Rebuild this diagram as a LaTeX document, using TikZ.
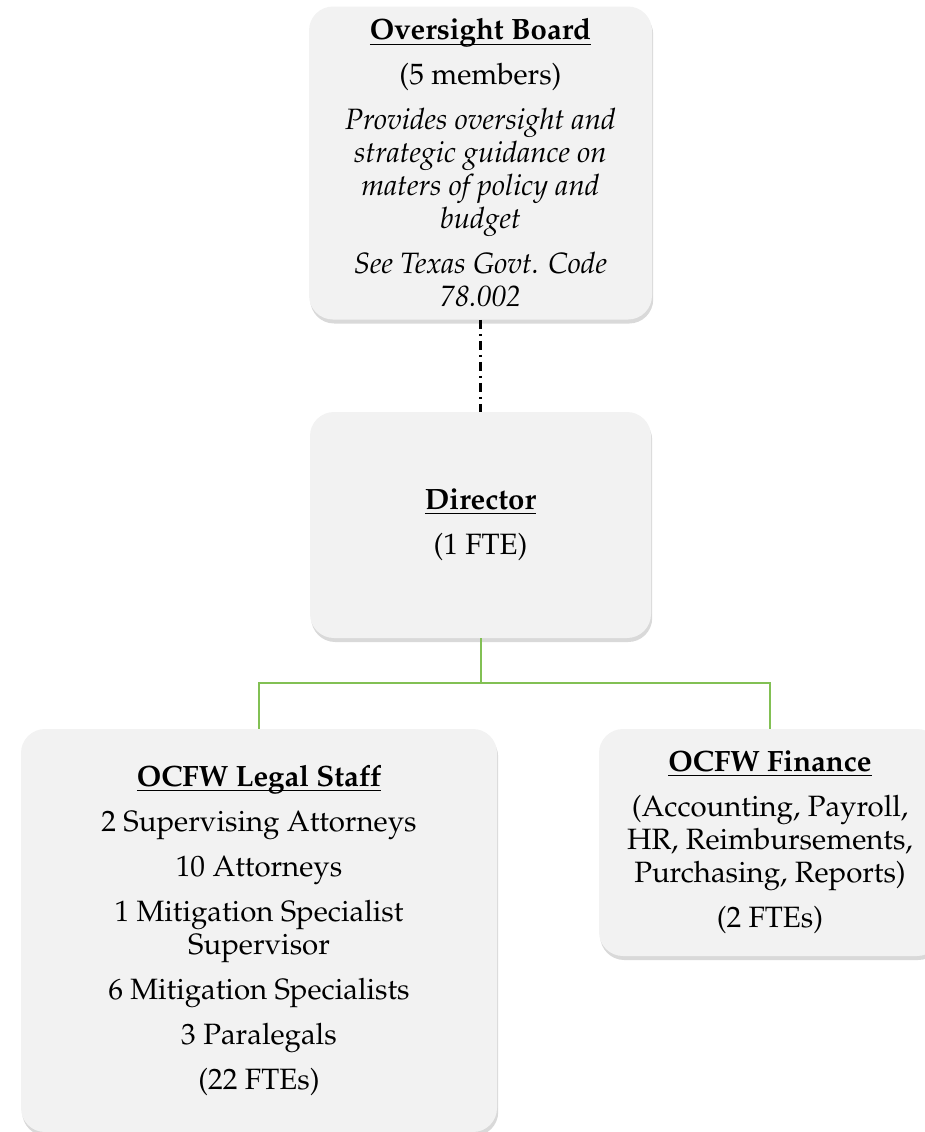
\documentclass[tikz,border=0pt]{standalone}
\usepackage[T1]{fontenc}
\usepackage{mathpazo}
\usetikzlibrary{shadows}
\definecolor{boxgray}{RGB}{242,242,242}
\definecolor{linegreen}{RGB}{130,192,84}
\newcommand{\ultitle}[1]{\textbf{\underline{\smash{#1}}\vphantom{#1}}}
\begin{document}
\begin{tikzpicture}[x=0.5pt,y=-0.5pt,
  orgbox/.style={fill=boxgray, rounded corners=12pt, align=center,
    font=\fontsize{14.7}{16.5}\selectfont, inner sep=0pt,
    drop shadow={opacity=0.3, shadow xshift=0.6pt, shadow yshift=-2pt}},
  orgline/.style={draw=linegreen, line width=1pt},
  boardline/.style={line width=1.1pt, dash pattern=on 4.5pt off 2.5pt on 1pt off 2.5pt}]
\useasboundingbox (0,0) rectangle (925,1132);
% boxes
\node[orgbox, minimum width=171.5pt, minimum height=156.5pt] (board) at (480.5,163)
  {\ultitle{Oversight Board}\\[6pt]
   (5 members)\\[6pt]
   \textit{Provides oversight and}\\ \textit{strategic guidance on}\\
   \textit{maters of policy and}\\ \textit{budget}\\[6pt]
   \textit{See Texas Govt. Code}\\ \textit{78.002}};
\node[orgbox, minimum width=170.5pt, minimum height=113pt] (director) at (480.5,525)
  {\ultitle{Director}\\[6pt]
   (1 FTE)};
\node[orgbox, minimum width=238pt, minimum height=201.5pt] (legal) at (259,930.5)
  {\ultitle{OCFW Legal Staff}\\[6pt]
   2 Supervising Attorneys\\[6pt]
   10 Attorneys\\[6pt]
   1 Mitigation Specialist\\ Supervisor\\[6pt]
   6 Mitigation Specialists\\[6pt]
   3 Paralegals\\[6pt]
   (22 FTEs)};
\node[orgbox, minimum width=171pt, minimum height=113.5pt] (finance) at (770,842.5)
  {\ultitle{OCFW Finance}\\[6pt]
   (Accounting, Payroll,\\ HR, Reimbursements,\\ Purchasing, Reports)\\[6pt]
   (2 FTEs)};
% connectors
\coordinate (split) at (480.5,683);
\draw[boardline] (board.south) -- (director.north);
\draw[orgline] (director.south) -- (split) -| (legal.north);
\draw[orgline] (split) -| (finance.north);
\end{tikzpicture}
\end{document}
